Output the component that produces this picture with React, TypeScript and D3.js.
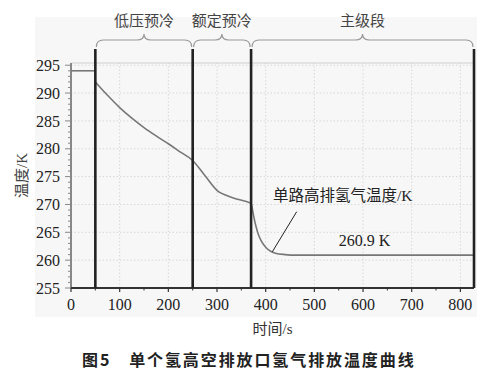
import React from "react";
import * as d3 from "d3";

const flatTimes = [0, 50];
const flatTemps = [294.0, 294.0];
const curveTimes = [50, 75, 100, 125, 150, 175, 200, 225, 250, 275, 303, 320, 340, 370, 373, 376, 380, 385, 390, 400, 410, 420, 440, 460, 828];
const curveTemps = [292.0, 289.6, 287.4, 285.5, 283.8, 282.3, 280.9, 279.4, 277.9, 275.2, 272.3, 271.6, 271.0, 270.2, 269.0, 267.6, 266.1, 264.6, 263.6, 262.3, 261.6, 261.25, 261.0, 260.9, 260.9];
const phaseBounds = [50, 250, 370, 828];
const phaseNames = ["低压预冷", "额定预冷", "主级段"];
const xTicks = [0, 100, 200, 300, 400, 500, 600, 700, 800];
const yTicks = [255, 260, 265, 270, 275, 280, 285, 290, 295];
const annotation = "单路高排氢气温度/K";
const finalLabel = "260.9 K";
const xTitle = "时间/s";
const yTitle = "温度/K";
const caption = "图5　单个氢高空排放口氢气排放温度曲线";

const W = 477, H = 377;
const L = 71, R = 474, T = 63, B = 288;

export default function App() {
  const x = d3.scaleLinear().domain([0, 828]).range([L, R]);
  const y = d3.scaleLinear().domain([255, 295.4]).range([B, T]);
  const line = d3.line<[number, number]>().x(d => x(d[0])).y(d => y(d[1])).curve(d3.curveMonotoneX);
  const flat = flatTimes.map((t, i) => [t, flatTemps[i]] as [number, number]);
  const main = curveTimes.map((t, i) => [t, curveTemps[i]] as [number, number]);
  const minorY = d3.range(255, 296, 1);
  const minorX = d3.range(50, 828, 100);
  const serif = "'Liberation Serif', 'Times New Roman', 'Noto Sans CJK SC', serif";

  const brace = (x1: number, x2: number) => {
    const yb = 40, q = 7, r = 7, cusp = 6;
    const xm = (x1 + x2) / 2;
    return `M${x1},${yb + q} Q${x1},${yb} ${x1 + r},${yb} L${xm - r},${yb} Q${xm},${yb} ${xm},${yb - cusp} Q${xm},${yb} ${xm + r},${yb} L${x2 - r},${yb} Q${x2},${yb} ${x2},${yb + q}`;
  };

  return (
    <svg width={W} height={H} style={{ position: "absolute", left: 0, top: 0, background: "#fff" }}>
      <rect x={35} y={17} width={442} height={300} fill="#f7f7f7" />
      {/* grid */}
      {xTicks.filter(t => t > 0).map(t => (
        <line key={"gx" + t} x1={x(t)} x2={x(t)} y1={B} y2={T} stroke="#d8d8d8" strokeWidth={1} strokeDasharray="1.5,2" />
      ))}
      {yTicks.filter(t => t > 255).map(t => (
        <line key={"gy" + t} x1={L} x2={R} y1={y(t)} y2={y(t)} stroke="#d8d8d8" strokeWidth={1} strokeDasharray="1.5,2" />
      ))}
      <line x1={L} x2={R} y1={T} y2={T} stroke="#cfcfcf" strokeWidth={1.2} />
      {/* y axis */}
      <line x1={L} x2={L} y1={B} y2={T} stroke="#888" strokeWidth={2} />
      {minorY.map(v => (
        <line key={"my" + v} x1={L} x2={L - (v % 5 === 0 ? 6 : 3)} y1={y(v)} y2={y(v)} stroke="#888" strokeWidth={1} />
      ))}
      {yTicks.map(v => (
        <text key={"yl" + v} x={60} y={y(v)} dy="0.35em" textAnchor="end" fontFamily={serif} fontSize={16} fill="#222">{v}</text>
      ))}
      {/* x axis */}
      <line x1={L} x2={R} y1={B} y2={B} stroke="#333" strokeWidth={2} />
      {xTicks.map(t => (
        <line key={"xt" + t} x1={x(t)} x2={x(t)} y1={B} y2={B + 4} stroke="#333" strokeWidth={1.2} />
      ))}
      {minorX.map(t => (
        <line key={"mx" + t} x1={x(t)} x2={x(t)} y1={B} y2={B + 2.5} stroke="#333" strokeWidth={1} />
      ))}
      {xTicks.map(t => (
        <text key={"xl" + t} x={x(t)} y={310} textAnchor="middle" fontFamily={serif} fontSize={16} fill="#222">{t}</text>
      ))}
      {/* titles */}
      <text x={(L + R) / 2} y={334} textAnchor="middle" fontFamily={serif} fontSize={15} fill="#333">{xTitle}</text>
      <text transform={`translate(27,${(T + B) / 2}) rotate(-90)`} textAnchor="middle" fontFamily={serif} fontSize={15} fill="#444">{yTitle}</text>
      {/* data */}
      <path d={line(flat) || ""} fill="none" stroke="#777" strokeWidth={1.6} />
      <path d={line(main) || ""} fill="none" stroke="#777" strokeWidth={1.6} />
      {/* phase lines */}
      {phaseBounds.map(t => (
        <line key={"pb" + t} x1={x(t)} x2={x(t)} y1={49} y2={B} stroke="#222" strokeWidth={2.6} />
      ))}
      {/* braces */}
      {phaseNames.map((n, i) => {
        const x1 = x(phaseBounds[i]);
        const x2 = x(phaseBounds[i + 1]);
        return (
          <g key={"br" + i}>
            <path d={brace(x1 + 1, x2 - 1)} fill="none" stroke="#999" strokeWidth={1.2} />
            <text x={(x1 + x2) / 2} y={26} textAnchor="middle" fontFamily={serif} fontSize={15} fill="#444">{n}</text>
          </g>
        );
      })}
      {/* annotation */}
      <line x1={x(463.7)} x2={x(413.6)} y1={y(268.7)} y2={y(261.5)} stroke="#222" strokeWidth={1} />
      <text x={x(415)} y={y(270.6)} fontFamily={serif} fontSize={15.5} fill="#222">{annotation}</text>
      <text x={x(603)} y={y(262.5)} textAnchor="middle" fontFamily={serif} fontSize={16} fill="#222">{finalLabel}</text>
      {/* caption */}
      <text x={82} y={366} fontFamily="'Noto Sans CJK SC', sans-serif" fontWeight="bold" fontSize={16} letterSpacing={1.9} fill="#222">{caption}</text>
    </svg>
  );
}
